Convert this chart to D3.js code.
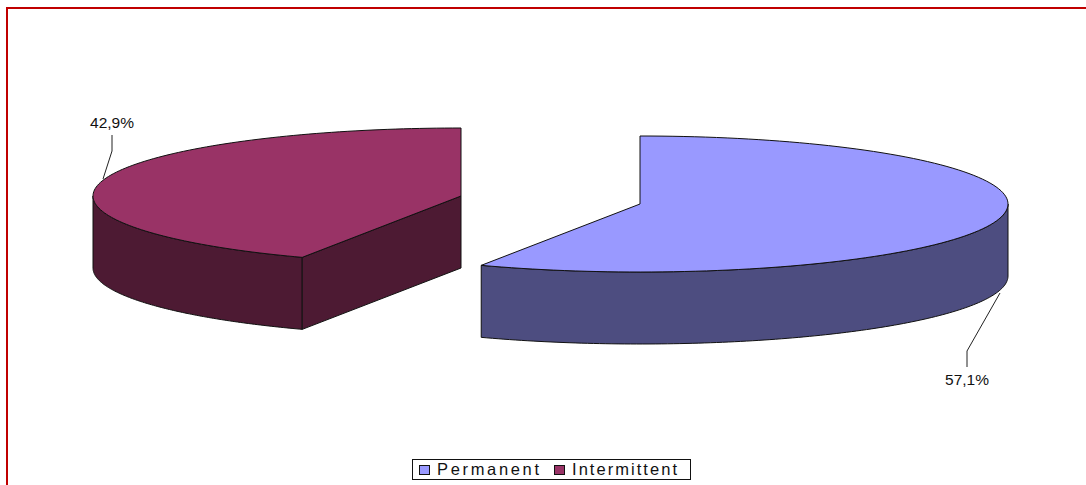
<!DOCTYPE html>
<html><head><meta charset="utf-8">
<script src="https://cdn.jsdelivr.net/npm/d3@7"></script>
<style>html,body{margin:0;padding:0;background:#fff;overflow:hidden}svg{display:block}text{font-family:"Liberation Sans",Arial,sans-serif;fill:#111}</style>
</head><body><svg id="c" width="1086" height="485"></svg>
<script>
const categories = ["Permanent", "Intermittent"];
const values = [57.1, 42.9];
const labels = ["57,1%", "42,9%"];
const topColors = ["#9999ff", "#993366"];
const sideColors = ["#4d4d80", "#4d1a33"];

const svg = d3.select("#c");
svg.append("path").attr("d","M7,485V8H1086").attr("fill","none").attr("stroke","#c00000").attr("stroke-width",2);

const rx = 368, ry = 68, depth = 72;
const centers = [[640,204],[461,196]];
const pieArcs = d3.pie().sort(null)(values);

const px = (c,a) => c[0] + rx*Math.sin(a);
const py = (c,a) => c[1] - ry*Math.cos(a);
function arcPts(c,a0,a1,dy=0){
  return d3.range(0,121).map(i=>{const a=a0+(a1-a0)*i/120;return [px(c,a),py(c,a)+dy];});
}
const line = d3.line();

// Intermittent first (drawn behind), then Permanent
[1,0].forEach(i=>{
  const c = centers[i], a0 = pieArcs[i].startAngle, a1 = pieArcs[i].endAngle;
  const g = svg.append("g");
  const stroke = {stroke:"#111","stroke-width":1,"stroke-linejoin":"round"};
  const sty = s => Object.entries(stroke).forEach(([k,v])=>s.attr(k,v));
  // visible outer wall: lower half of the ellipse inside the slice
  const w0 = Math.max(a0,Math.PI/2), w1 = Math.min(a1,3*Math.PI/2);
  const top = arcPts(c,w0,w1), bottom = arcPts(c,w0,w1,depth).reverse();
  g.append("path").attr("d",line(top.concat(bottom))+"Z").attr("fill",sideColors[i]).call(sty);
  // visible cut face (only for Intermittent, on its right)
  if(i===1){
    const e=[px(c,a0),py(c,a0)];
    g.append("path").attr("d",line([c,e,[e[0],e[1]+depth],[c[0],c[1]+depth]])+"Z").attr("fill",sideColors[i]).call(sty);
  }
  // top face
  g.append("path").attr("d",line([c].concat(arcPts(c,a0,a1)))+"Z").attr("fill",topColors[i]).call(sty);
});

// leader lines and data labels
const leaders = [
  {pts:[[1000,293],[967,351],[967,367]], tx:967, ty:385},
  {pts:[[103,179],[112,151],[112,135]], tx:112, ty:128}
];
leaders.forEach((l,i)=>{
  svg.append("path").attr("d",line(l.pts)).attr("fill","none").attr("stroke","#222").attr("stroke-width",1);
  svg.append("text").attr("x",l.tx).attr("y",l.ty).attr("text-anchor","middle").attr("font-size",15.5).text(labels[i]);
});

// legend
const lg = svg.append("g");
lg.append("rect").attr("x",412.5).attr("y",459.5).attr("width",278).attr("height",20).attr("fill","#fff").attr("stroke","#111");
const itemX = [419,554], textX = [437,572];
categories.forEach((d,i)=>{
  lg.append("rect").attr("x",itemX[i]+.5).attr("y",465.5).attr("width",10).attr("height",9).attr("fill",topColors[i]).attr("stroke","#111");
  lg.append("text").attr("x",textX[i]).attr("y",475).attr("font-size",16.5).attr("textLength",i?105:102).text(d);
});
</script></body></html>
